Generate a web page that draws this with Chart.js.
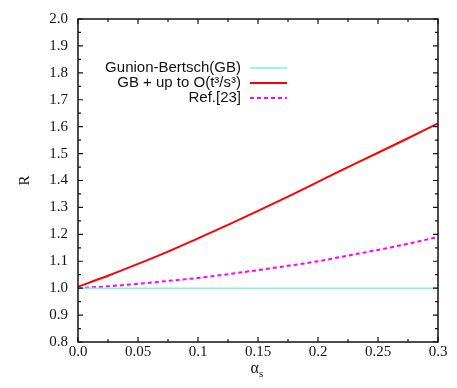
<!DOCTYPE html>
<html>
<head>
<meta charset="utf-8">
<script src="https://cdn.jsdelivr.net/npm/chart.js@4.4.1/dist/chart.umd.min.js"></script>
<style>
  html, body { margin: 0; padding: 0; background: #fff; }
  #wrap { width: 457px; height: 388px; }
</style>
</head>
<body>
<div id="wrap"><canvas id="myChart" width="457" height="388"></canvas></div>
<script>
// values
const alphaS = [0, 0.025, 0.05, 0.075, 0.1, 0.125, 0.15, 0.175, 0.2, 0.225, 0.25, 0.275, 0.3]
const gunionBertsch = [1, 1, 1, 1, 1, 1, 1, 1, 1, 1, 1, 1, 1]
const gbUpToO3 = [1.005, 1.046, 1.09, 1.136, 1.185, 1.235, 1.287, 1.34, 1.395, 1.45, 1.503, 1.557, 1.612]
const ref23 = [1.0, 1.007, 1.016, 1.027, 1.038, 1.052, 1.067, 1.083, 1.1, 1.121, 1.142, 1.165, 1.19]
const seriesNames = ["Gunion-Bertsch(GB)", "GB + up to O(t\u00b3/s\u00b3)", "Ref.[23]"]
const xTickLabels = ["0.0", "0.05", "0.1", "0.15", "0.2", "0.25", "0.3"]
const yTickLabels = ["0.8", "0.9", "1.0", "1.1", "1.2", "1.3", "1.4", "1.5", "1.6", "1.7", "1.8", "1.9", "2.0"]

const serif = "'Liberation Serif', 'Times New Roman', serif"
const sans = "'Liberation Sans', Arial, sans-serif"

function pts(ys){
  return alphaS.map((x, i) => ({x: x, y: ys[i]}))
}

// frame, inward ticks on all four sides, axis titles and the legend
const framePlugin = {
  id: "frame",
  afterDraw(chart){
    const ctx = chart.ctx
    const a = chart.chartArea
    const xs = chart.scales.x, ys = chart.scales.y
    ctx.save()
    ctx.strokeStyle = "#111"
    ctx.lineWidth = 1.5
    ctx.strokeRect(a.left, a.top, a.right - a.left, a.bottom - a.top)

    ctx.lineWidth = 1.2
    ctx.beginPath()
    for (let i = 0; i <= 12; i++) {
      let v = i * 0.025
      let px = xs.getPixelForValue(v)
      let len = i % 2 === 0 ? 5 : 3
      ctx.moveTo(px, a.bottom); ctx.lineTo(px, a.bottom - len)
      ctx.moveTo(px, a.top); ctx.lineTo(px, a.top + len)
    }
    for (let i = 0; i <= 24; i++) {
      let v = 0.8 + i * 0.05
      let py = ys.getPixelForValue(v)
      let len = i % 2 === 0 ? 5 : 3
      ctx.moveTo(a.left, py); ctx.lineTo(a.left + len, py)
      ctx.moveTo(a.right, py); ctx.lineTo(a.right - len, py)
    }
    ctx.stroke()

    // y title, rotated
    ctx.fillStyle = "#111"
    ctx.font = "15px " + serif
    ctx.textAlign = "center"
    ctx.textBaseline = "middle"
    ctx.save()
    ctx.translate(25, (a.top + a.bottom) / 2)
    ctx.rotate(-Math.PI / 2)
    ctx.fillText("R", 0, 0)
    ctx.restore()

    // x title alpha_s
    let cx = (a.left + a.right) / 2
    ctx.font = "16px " + serif
    ctx.textAlign = "right"
    ctx.fillText("\u03b1", cx + 1, 369)
    ctx.font = "11px " + serif
    ctx.textAlign = "left"
    ctx.fillText("s", cx + 1, 374)

    // legend
    ctx.font = "15px " + sans
    chart.data.datasets.forEach((ds, i) => {
      let y = 68 + i * 15
      ctx.textAlign = "right"
      ctx.fillStyle = "#111"
      ctx.fillText(ds.label, 241, y)
      ctx.strokeStyle = ds.borderColor
      ctx.lineWidth = ds.borderWidth
      ctx.setLineDash(ds.borderDash || [])
      ctx.beginPath()
      ctx.moveTo(250, y); ctx.lineTo(287, y)
      ctx.stroke()
      ctx.setLineDash([])
    })
    ctx.restore()
  }
}

new Chart(document.getElementById("myChart"), {
  type: "line",
  data: {
    datasets: [
      { label: seriesNames[0], data: pts(gunionBertsch), borderColor: "#7cf5d2", borderWidth: 1.5, pointRadius: 0, tension: 0 },
      { label: seriesNames[1], data: pts(gbUpToO3), borderColor: "#ff0000", borderWidth: 2, pointRadius: 0, tension: 0.4, cubicInterpolationMode: "monotone" },
      { label: seriesNames[2], data: pts(ref23), borderColor: "#ff00ff", borderWidth: 2, borderDash: [4, 3], pointRadius: 0, tension: 0.4, cubicInterpolationMode: "monotone" }
    ]
  },
  options: {
    responsive: false,
    animation: false,
    layout: { padding: { left: 0, right: 19, top: 12, bottom: 0 } },
    plugins: { legend: { display: false }, tooltip: { enabled: false } },
    scales: {
      x: {
        type: "linear", min: 0, max: 0.3,
        grid: { display: false, drawTicks: false },
        border: { display: false },
        ticks: {
          stepSize: 0.05, padding: 1, color: "#111",
          font: { family: serif, size: 15 },
          maxRotation: 0, autoSkip: false,
          callback: (v, i) => xTickLabels[i]
        },
        afterFit: (s) => { s.height = 46 }
      },
      y: {
        type: "linear", min: 0.8, max: 2.0,
        grid: { display: false, drawTicks: false },
        border: { display: false },
        ticks: {
          stepSize: 0.1, padding: 10, color: "#111",
          font: { family: serif, size: 15 },
          autoSkip: false,
          callback: (v, i) => yTickLabels[i]
        },
        afterFit: (s) => { s.width = 78 }
      }
    }
  },
  plugins: [framePlugin]
})
</script>
</body>
</html>
